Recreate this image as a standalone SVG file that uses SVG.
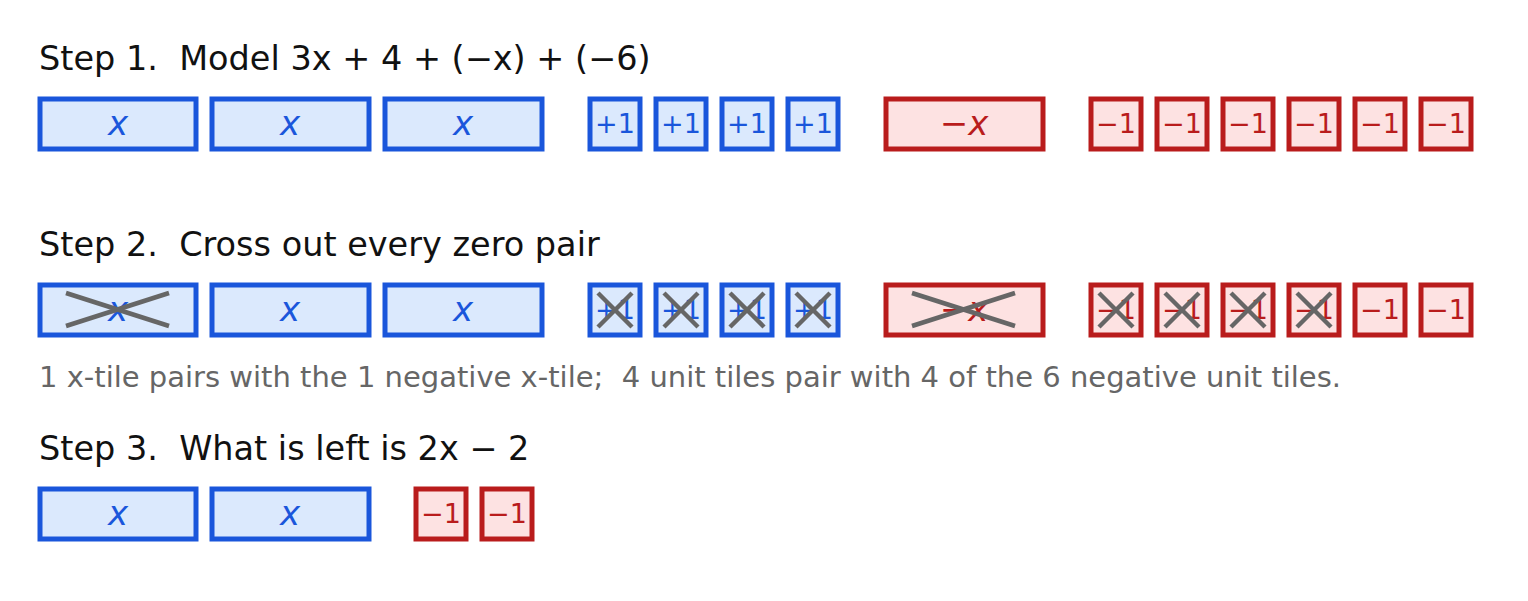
<svg xmlns="http://www.w3.org/2000/svg" width="1528" height="601" viewBox="0 0 1528 601">
<style>
.t{font-family:"DejaVu Sans",sans-serif;font-size:33.5px;fill:#111;white-space:pre}
.n{font-family:"DejaVu Sans",sans-serif;font-size:29px;fill:#666;white-space:pre}
.p rect{fill:#dbe9fd;stroke:#1a56db;stroke-width:5}
.m rect{fill:#fde2e2;stroke:#b91c1c;stroke-width:5}
.p text{fill:#1a56db}
.m text{fill:#b91c1c}
.v{font-family:"DejaVu Sans",sans-serif;font-size:34px;font-style:italic;text-anchor:middle}
.u{font-family:"DejaVu Sans",sans-serif;font-size:27px;text-anchor:middle}
.c line{stroke:#666;stroke-width:4.5}
</style>
<rect width="1528" height="601" fill="#fff"/>
<text class="t" x="39" y="70" xml:space="preserve">Step 1.  Model 3x + 4 + (−x) + (−6)</text>
<text class="t" x="39" y="256" xml:space="preserve">Step 2.  Cross out every zero pair</text>
<text class="n" x="39" y="387" xml:space="preserve">1 x-tile pairs with the 1 negative x-tile;  4 unit tiles pair with 4 of the 6 negative unit tiles.</text>
<text class="t" x="39" y="460" xml:space="preserve">Step 3.  What is left is 2x − 2</text>
<g id="row1">
<g class="p"><rect x="40" y="99" width="156" height="50"/><text class="v" x="118" y="135">x</text></g>
<g class="p"><rect x="212" y="99" width="157" height="50"/><text class="v" x="290" y="135">x</text></g>
<g class="p"><rect x="385" y="99" width="157" height="50"/><text class="v" x="463" y="135">x</text></g>
<g class="p"><rect x="590" y="99" width="50" height="50"/><text class="u" x="615" y="133">+1</text></g>
<g class="p"><rect x="656" y="99" width="50" height="50"/><text class="u" x="681" y="133">+1</text></g>
<g class="p"><rect x="722" y="99" width="50" height="50"/><text class="u" x="747" y="133">+1</text></g>
<g class="p"><rect x="788" y="99" width="50" height="50"/><text class="u" x="813" y="133">+1</text></g>
<g class="m"><rect x="886" y="99" width="157" height="50"/><text class="v" x="964" y="135">−x</text></g>
<g class="m"><rect x="1091" y="99" width="50" height="50"/><text class="u" x="1116" y="133">−1</text></g>
<g class="m"><rect x="1157" y="99" width="50" height="50"/><text class="u" x="1182" y="133">−1</text></g>
<g class="m"><rect x="1223" y="99" width="50" height="50"/><text class="u" x="1248" y="133">−1</text></g>
<g class="m"><rect x="1289" y="99" width="50" height="50"/><text class="u" x="1314" y="133">−1</text></g>
<g class="m"><rect x="1355" y="99" width="50" height="50"/><text class="u" x="1380" y="133">−1</text></g>
<g class="m"><rect x="1421" y="99" width="50" height="50"/><text class="u" x="1446" y="133">−1</text></g>
</g>
<g id="row2">
<g class="p"><rect x="40" y="285" width="156" height="50"/><text class="v" x="118" y="321">x</text></g>
<g class="p"><rect x="212" y="285" width="157" height="50"/><text class="v" x="290" y="321">x</text></g>
<g class="p"><rect x="385" y="285" width="157" height="50"/><text class="v" x="463" y="321">x</text></g>
<g class="p"><rect x="590" y="285" width="50" height="50"/><text class="u" x="615" y="319">+1</text></g>
<g class="p"><rect x="656" y="285" width="50" height="50"/><text class="u" x="681" y="319">+1</text></g>
<g class="p"><rect x="722" y="285" width="50" height="50"/><text class="u" x="747" y="319">+1</text></g>
<g class="p"><rect x="788" y="285" width="50" height="50"/><text class="u" x="813" y="319">+1</text></g>
<g class="m"><rect x="886" y="285" width="157" height="50"/><text class="v" x="964" y="321">−x</text></g>
<g class="m"><rect x="1091" y="285" width="50" height="50"/><text class="u" x="1116" y="319">−1</text></g>
<g class="m"><rect x="1157" y="285" width="50" height="50"/><text class="u" x="1182" y="319">−1</text></g>
<g class="m"><rect x="1223" y="285" width="50" height="50"/><text class="u" x="1248" y="319">−1</text></g>
<g class="m"><rect x="1289" y="285" width="50" height="50"/><text class="u" x="1314" y="319">−1</text></g>
<g class="m"><rect x="1355" y="285" width="50" height="50"/><text class="u" x="1380" y="319">−1</text></g>
<g class="m"><rect x="1421" y="285" width="50" height="50"/><text class="u" x="1446" y="319">−1</text></g>
</g>
<g id="crosses" class="c">
<line x1="66" y1="293" x2="169" y2="326"/><line x1="66" y1="326" x2="169" y2="293"/>
<line x1="912" y1="293" x2="1015" y2="326"/><line x1="912" y1="326" x2="1015" y2="293"/>
<line x1="598" y1="293" x2="632" y2="327"/><line x1="598" y1="327" x2="632" y2="293"/>
<line x1="664" y1="293" x2="698" y2="327"/><line x1="664" y1="327" x2="698" y2="293"/>
<line x1="730" y1="293" x2="764" y2="327"/><line x1="730" y1="327" x2="764" y2="293"/>
<line x1="796" y1="293" x2="830" y2="327"/><line x1="796" y1="327" x2="830" y2="293"/>
<line x1="1099" y1="293" x2="1133" y2="327"/><line x1="1099" y1="327" x2="1133" y2="293"/>
<line x1="1165" y1="293" x2="1199" y2="327"/><line x1="1165" y1="327" x2="1199" y2="293"/>
<line x1="1231" y1="293" x2="1265" y2="327"/><line x1="1231" y1="327" x2="1265" y2="293"/>
<line x1="1297" y1="293" x2="1331" y2="327"/><line x1="1297" y1="327" x2="1331" y2="293"/>
</g>
<g id="row3">
<g class="p"><rect x="40" y="489" width="156" height="50"/><text class="v" x="118" y="525">x</text></g>
<g class="p"><rect x="212" y="489" width="157" height="50"/><text class="v" x="290" y="525">x</text></g>
<g class="m"><rect x="416" y="489" width="50" height="50"/><text class="u" x="441" y="523">−1</text></g>
<g class="m"><rect x="482" y="489" width="50" height="50"/><text class="u" x="507" y="523">−1</text></g>
</g>
</svg>
